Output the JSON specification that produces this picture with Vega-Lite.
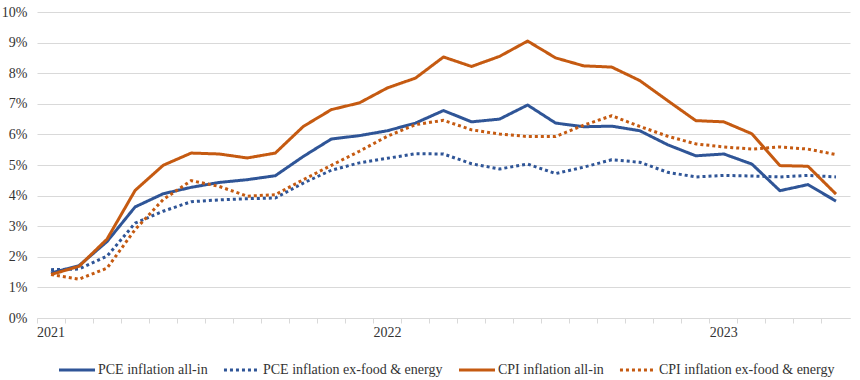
{
  "$schema": "https://vega.github.io/schema/vega-lite/v6.json",
  "width": 813,
  "height": 306,
  "autosize": {"type": "none"},
  "padding": {"left": 37, "top": 12, "right": 10, "bottom": 62},
  "background": "white",
  "data": {
    "values": [
      {"month": "2021-01", "PCE inflation all-in": 1.47, "PCE inflation ex-food & energy": 1.58, "CPI inflation all-in": 1.42, "CPI inflation ex-food & energy": 1.42},
      {"month": "2021-02", "PCE inflation all-in": 1.71, "PCE inflation ex-food & energy": 1.60, "CPI inflation all-in": 1.69, "CPI inflation ex-food & energy": 1.27},
      {"month": "2021-03", "PCE inflation all-in": 2.50, "PCE inflation ex-food & energy": 2.02, "CPI inflation all-in": 2.58, "CPI inflation ex-food & energy": 1.63},
      {"month": "2021-04", "PCE inflation all-in": 3.63, "PCE inflation ex-food & energy": 3.10, "CPI inflation all-in": 4.17, "CPI inflation ex-food & energy": 2.89},
      {"month": "2021-05", "PCE inflation all-in": 4.06, "PCE inflation ex-food & energy": 3.49, "CPI inflation all-in": 4.99, "CPI inflation ex-food & energy": 3.87},
      {"month": "2021-06", "PCE inflation all-in": 4.27, "PCE inflation ex-food & energy": 3.80, "CPI inflation all-in": 5.39, "CPI inflation ex-food & energy": 4.49},
      {"month": "2021-07", "PCE inflation all-in": 4.43, "PCE inflation ex-food & energy": 3.86, "CPI inflation all-in": 5.36, "CPI inflation ex-food & energy": 4.30},
      {"month": "2021-08", "PCE inflation all-in": 4.52, "PCE inflation ex-food & energy": 3.90, "CPI inflation all-in": 5.23, "CPI inflation ex-food & energy": 3.98},
      {"month": "2021-09", "PCE inflation all-in": 4.65, "PCE inflation ex-food & energy": 3.92, "CPI inflation all-in": 5.39, "CPI inflation ex-food & energy": 4.03},
      {"month": "2021-10", "PCE inflation all-in": 5.28, "PCE inflation ex-food & energy": 4.41, "CPI inflation all-in": 6.26, "CPI inflation ex-food & energy": 4.52},
      {"month": "2021-11", "PCE inflation all-in": 5.85, "PCE inflation ex-food & energy": 4.83, "CPI inflation all-in": 6.81, "CPI inflation ex-food & energy": 4.99},
      {"month": "2021-12", "PCE inflation all-in": 5.96, "PCE inflation ex-food & energy": 5.07, "CPI inflation all-in": 7.03, "CPI inflation ex-food & energy": 5.45},
      {"month": "2022-01", "PCE inflation all-in": 6.12, "PCE inflation ex-food & energy": 5.22, "CPI inflation all-in": 7.52, "CPI inflation ex-food & energy": 5.94},
      {"month": "2022-02", "PCE inflation all-in": 6.37, "PCE inflation ex-food & energy": 5.37, "CPI inflation all-in": 7.84, "CPI inflation ex-food & energy": 6.32},
      {"month": "2022-03", "PCE inflation all-in": 6.78, "PCE inflation ex-food & energy": 5.36, "CPI inflation all-in": 8.53, "CPI inflation ex-food & energy": 6.46},
      {"month": "2022-04", "PCE inflation all-in": 6.41, "PCE inflation ex-food & energy": 5.04, "CPI inflation all-in": 8.22, "CPI inflation ex-food & energy": 6.15},
      {"month": "2022-05", "PCE inflation all-in": 6.50, "PCE inflation ex-food & energy": 4.87, "CPI inflation all-in": 8.55, "CPI inflation ex-food & energy": 6.01},
      {"month": "2022-06", "PCE inflation all-in": 6.96, "PCE inflation ex-food & energy": 5.03, "CPI inflation all-in": 9.05, "CPI inflation ex-food & energy": 5.93},
      {"month": "2022-07", "PCE inflation all-in": 6.37, "PCE inflation ex-food & energy": 4.72, "CPI inflation all-in": 8.50, "CPI inflation ex-food & energy": 5.93},
      {"month": "2022-08", "PCE inflation all-in": 6.25, "PCE inflation ex-food & energy": 4.93, "CPI inflation all-in": 8.24, "CPI inflation ex-food & energy": 6.30},
      {"month": "2022-09", "PCE inflation all-in": 6.27, "PCE inflation ex-food & energy": 5.17, "CPI inflation all-in": 8.20, "CPI inflation ex-food & energy": 6.61},
      {"month": "2022-10", "PCE inflation all-in": 6.12, "PCE inflation ex-food & energy": 5.09, "CPI inflation all-in": 7.76, "CPI inflation ex-food & energy": 6.26},
      {"month": "2022-11", "PCE inflation all-in": 5.66, "PCE inflation ex-food & energy": 4.76, "CPI inflation all-in": 7.10, "CPI inflation ex-food & energy": 5.94},
      {"month": "2022-12", "PCE inflation all-in": 5.30, "PCE inflation ex-food & energy": 4.61, "CPI inflation all-in": 6.45, "CPI inflation ex-food & energy": 5.69},
      {"month": "2023-01", "PCE inflation all-in": 5.36, "PCE inflation ex-food & energy": 4.66, "CPI inflation all-in": 6.41, "CPI inflation ex-food & energy": 5.59},
      {"month": "2023-02", "PCE inflation all-in": 5.03, "PCE inflation ex-food & energy": 4.64, "CPI inflation all-in": 6.02, "CPI inflation ex-food & energy": 5.52},
      {"month": "2023-03", "PCE inflation all-in": 4.16, "PCE inflation ex-food & energy": 4.61, "CPI inflation all-in": 4.98, "CPI inflation ex-food & energy": 5.59},
      {"month": "2023-04", "PCE inflation all-in": 4.36, "PCE inflation ex-food & energy": 4.66, "CPI inflation all-in": 4.96, "CPI inflation ex-food & energy": 5.52},
      {"month": "2023-05", "PCE inflation all-in": 3.82, "PCE inflation ex-food & energy": 4.61, "CPI inflation all-in": 4.05, "CPI inflation ex-food & energy": 5.34}
    ]
  },
  "transform": [
    {"fold": ["PCE inflation all-in", "PCE inflation ex-food & energy", "CPI inflation all-in", "CPI inflation ex-food & energy"], "as": ["series", "value"]}
  ],
  "mark": {"type": "line", "strokeWidth": 3, "strokeJoin": "round"},
  "encoding": {
    "x": {
      "field": "month",
      "type": "ordinal",
      "bandPosition": 0.5,
      "scale": {"type": "band", "paddingInner": 0, "paddingOuter": 0},
      "axis": {
        "title": null,
        "bandPosition": 0,
        "labelOffset": 0,
        "labelAngle": 0,
        "labelAlign": "center",
        "labelOverlap": false,
        "labelExpr": "substring(datum.value, 5, 7) == '01' ? substring(datum.value, 0, 4) : ''",
        "labelFont": "Liberation Serif",
        "labelFontSize": 14,
        "ticks": true,
        "tickSize": 5,
        "tickColor": "#d9d9d9",
        "domainColor": "#d9d9d9",
        "grid": false,
        "labelPadding": 2
      }
    },
    "y": {
      "field": "value",
      "type": "quantitative",
      "scale": {"domain": [0, 10], "nice": false},
      "axis": {
        "title": null,
        "values": [0, 1, 2, 3, 4, 5, 6, 7, 8, 9, 10],
        "labelExpr": "datum.value + '%'",
        "labelFont": "Liberation Serif",
        "labelFontSize": 14,
        "domain": false,
        "ticks": false,
        "grid": true,
        "gridColor": "#d9d9d9",
        "labelPadding": 10
      }
    },
    "color": {
      "field": "series",
      "type": "nominal",
      "scale": {
        "domain": ["PCE inflation all-in", "PCE inflation ex-food & energy", "CPI inflation all-in", "CPI inflation ex-food & energy"],
        "range": ["#2F5597", "#2F5597", "#C55A11", "#C55A11"]
      },
      "legend": {
        "title": null,
        "orient": "none",
        "legendX": 20,
        "legendY": 338,
        "direction": "horizontal",
        "columns": 4,
        "symbolType": "stroke",
        "symbolSize": 1300,
        "symbolStrokeWidth": 3,
        "columnPadding": 9,
        "labelOffset": 1,
        "padding": 0,
        "labelFont": "Liberation Serif",
        "labelFontSize": 14
      }
    },
    "strokeDash": {
      "field": "series",
      "type": "nominal",
      "scale": {
        "domain": ["PCE inflation all-in", "PCE inflation ex-food & energy", "CPI inflation all-in", "CPI inflation ex-food & energy"],
        "range": [[1, 0], [3, 3], [1, 0], [3, 3]]
      },
      "legend": null
    }
  },
  "config": {
    "view": {"stroke": null},
    "font": "Liberation Serif",
    "axis": {"labelFont": "Liberation Serif", "labelFontSize": 14, "labelColor": "#333333"},
    "legend": {"labelFont": "Liberation Serif", "labelFontSize": 14, "labelColor": "#333333", "labelLimit": 400}
  }
}
